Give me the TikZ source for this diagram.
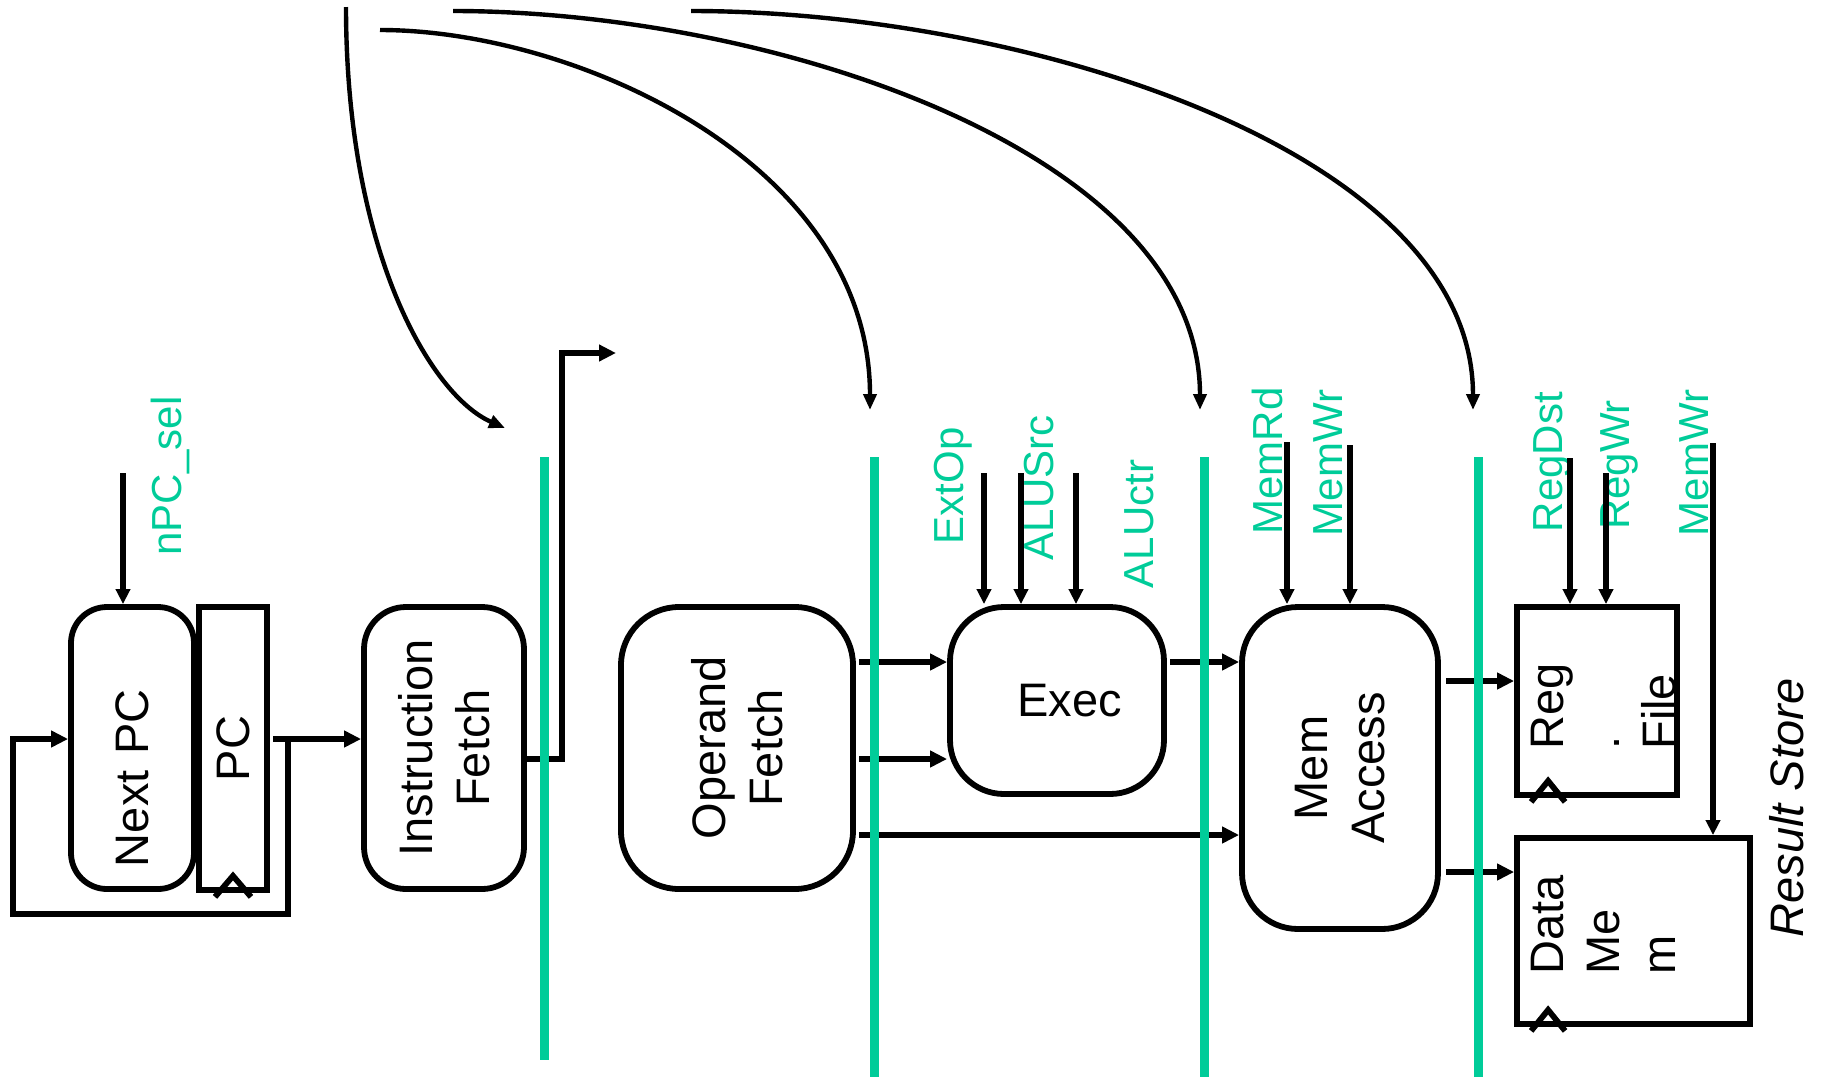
\documentclass[tikz,border=0pt]{standalone}
\usepackage{fontspec}
\setmainfont{Liberation Sans}
\usepackage{tikz}
\usetikzlibrary{arrows.meta}

\definecolor{ctrlgreen}{RGB}{0,204,153}

\begin{document}
\begin{tikzpicture}[
    x=0.5pt, y=-0.5pt,
    stage/.style={draw, line width=2.9pt, rounded corners=27pt, align=center, inner sep=0pt, font=\fontsize{23.5}{28.5}\selectfont},
    vstage/.style={stage, rotate=90},
    regbox/.style={draw, line width=2.9pt, inner sep=0pt},
    boxtext/.style={rotate=90, align=left, inner sep=0pt, font=\fontsize{23.5}{28}\selectfont},
    ctrl/.style={rotate=90, inner sep=0pt, text=ctrlgreen, font=\fontsize{21}{25}\selectfont},
    latch/.style={ctrlgreen, line width=4.5pt},
    arrow/.style={-{Triangle[length=8.5pt, width=8pt]}, line width=2.7pt},
    sig/.style={-{Triangle[length=7.5pt, width=7pt]}, line width=2.7pt},
    bendarrow/.style={-{Triangle[length=8pt, width=6.5pt]}, line width=2.2pt}
]
\useasboundingbox (0,0) rectangle (1822,1077);

% Stages
\node[vstage, rounded corners=18pt, minimum width=141pt, minimum height=61.5pt, text width=119pt, align=left] (nextpc) at (132.5,748) {Next PC};
\node[vstage, sharp corners, minimum width=141.5pt, minimum height=34pt] (pc) at (233,748.5) {PC};
\node[vstage, rounded corners=21pt, minimum width=141pt, minimum height=80pt] (ifetch) at (444,748) {Instruction\\Fetch};
\node[vstage, rounded corners=29pt, minimum width=141pt, minimum height=116pt] (opfetch) at (737,748) {Operand\\Fetch};
\node[stage, minimum width=107pt, minimum height=93.5pt, text width=65pt, align=right] (exec) at (1057,700.5) {Exec};
\node[vstage, rounded corners=28pt, minimum width=161pt, minimum height=98pt] (memacc) at (1340,768) {Mem\\Access};

% Result store
\node[regbox, minimum width=80pt, minimum height=94pt] (regfile) at (1597,701) {};
\node[regbox, minimum width=116.5pt, minimum height=93pt] (datamem) at (1633.5,931) {};
\node[boxtext, anchor=north west] (regfile_txt) at (1531,750) {Reg\\.\\File};
\node[boxtext, anchor=north west] (datamem_txt) at (1531,975) {Data\\Me\\m};
\node[rotate=90, inner sep=0pt, font=\fontsize{23.5}{28.5}\selectfont\itshape] (result) at (1787,808) {Result Store};

% Clock marks
\draw[line width=2.9pt] (pc.west) ++(-18,4) -- ++(18,-21) -- ++(18,21);
\draw[line width=2.9pt] (regfile.south west) ++(17,4) -- ++(17,-21) -- ++(17,21);
\draw[line width=2.9pt] (datamem.south west) ++(17,4) -- ++(17,-21) -- ++(17,21);

% Control signals
\node[ctrl] (npcsel) at (170,476) {nPC\_sel};
\node[ctrl] (extop) at (953,486) {ExtOp};
\node[ctrl] (alusrc) at (1039,488) {ALUSrc};
\node[ctrl] (aluctr) at (1139,524) {ALUctr};
\node[ctrl] (memrd) at (1267,461) {MemRd};
\node[ctrl] (memwr) at (1328,463) {MemWr};
\node[ctrl] (regdst) at (1552,462) {RegDst};
\node[ctrl] (regwr) at (1619,465) {RegWr};
\node[ctrl] (memwr_res) at (1694,463) {MemWr};

\coordinate (npcsel_in) at (123,473);
\coordinate (extop_in) at (984,473);
\coordinate (alusrc_in) at (1021,473);
\coordinate (aluctr_in) at (1076,473);
\coordinate (memrd_in) at (1287,442);
\coordinate (memwr_in) at (1350,445);
\coordinate (regdst_in) at (1570,458);
\coordinate (regwr_in) at (1606,473);
\coordinate (memwr_res_in) at (1713,443);

\draw[sig] (npcsel_in) -- (npcsel_in |- nextpc.east);
\draw[sig] (extop_in) -- (extop_in |- exec.north);
\draw[sig] (alusrc_in) -- (alusrc_in |- exec.north);
\draw[sig] (aluctr_in) -- (aluctr_in |- exec.north);
\draw[sig] (memrd_in) -- (memrd_in |- memacc.east);
\draw[sig] (memwr_in) -- (memwr_in |- memacc.east);
\draw[sig] (regdst_in) -- (regdst_in |- regfile.north);
\draw[sig] (regwr_in) -- (regwr_in |- regfile.north);
\draw[sig] (memwr_res_in) -- (memwr_res_in |- datamem.north);

% Data path
\coordinate (pc_out) at (273,739);
\coordinate (loop_j) at (288,739);
\coordinate (loop_low) at (13,914);
\coordinate (if_out) at (524,759);
\coordinate (if_up) at (562,353);
\coordinate (if_end) at (616,353);
\coordinate (of_a) at (859,662);
\coordinate (of_b) at (859,759);
\coordinate (of_c) at (859,835);
\coordinate (ex_out) at (1170,662);
\coordinate (ma_a) at (1446,681);
\coordinate (ma_b) at (1446,872);

\draw[arrow] (pc_out) -- (pc_out -| ifetch.north);
\draw[arrow] (loop_j) |- (loop_low) |- (nextpc.north |- pc_out);
\draw[arrow] (if_out) -| (if_up) -- (if_end);
\draw[arrow] (of_a) -- (of_a -| exec.west);
\draw[arrow] (of_b) -- (of_b -| exec.west);
\draw[arrow] (of_c) -- (of_c -| memacc.north);
\draw[arrow] (ex_out) -- (ex_out -| memacc.north);
\draw[arrow] (ma_a) -- (ma_a -| regfile.west);
\draw[arrow] (ma_b) -- (ma_b -| datamem.west);

% Control flow from decode
\coordinate (c1_s) at (346,7);   \coordinate (c1_e) at (505,428);
\coordinate (c2_s) at (380,30);  \coordinate (c2_e) at (870,410);
\coordinate (c3_s) at (453,11);  \coordinate (c3_e) at (1200,410);
\coordinate (c4_s) at (691,11);  \coordinate (c4_e) at (1473,410);

\draw[bendarrow] (c1_s) .. controls (346,250) and (430,395) .. (c1_e);
\draw[bendarrow] (c2_s) .. controls (576,30) and (870,163) .. (c2_e);
\draw[bendarrow] (c3_s) .. controls (770,11) and (1200,151) .. (c3_e);
\draw[bendarrow] (c4_s) .. controls (1025,11) and (1473,151) .. (c4_e);

% Pipeline registers
\draw[latch] (544,457) -- (544,1060);
\foreach \x in {874,1204,1478}
    \draw[latch] (\x,457) -- (\x,1077);

\end{tikzpicture}
\end{document}
